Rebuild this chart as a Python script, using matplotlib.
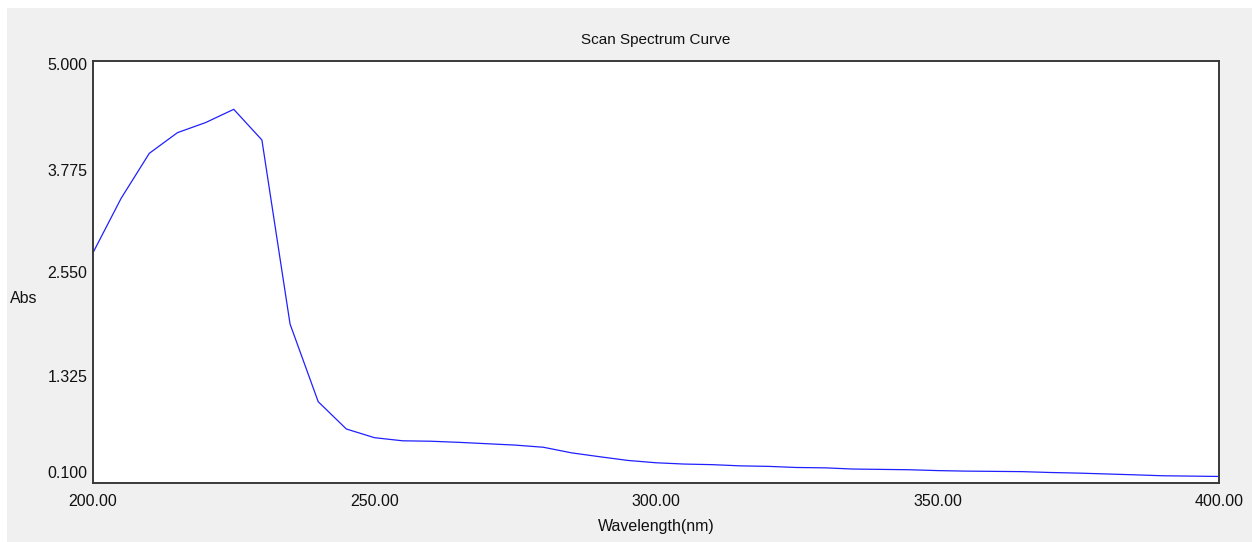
import matplotlib
matplotlib.use('Agg')
import matplotlib.pyplot as plt
import matplotlib.transforms as mtransforms
from matplotlib.patches import Rectangle

# wavelength (nm) and absorbance
wavelength = [200, 205, 210, 215, 220, 225, 230, 235, 240, 245,
              250, 255, 260, 265, 270, 275, 280, 285, 290, 295,
              300, 305, 310, 315, 320, 325, 330, 335, 340, 345,
              350, 355, 360, 365, 370, 375, 380, 385, 390, 395, 400]
absorbance = [2.774, 3.406, 3.928, 4.168, 4.285, 4.439, 4.083, 1.946, 1.044, 0.727,
              0.626, 0.590, 0.585, 0.572, 0.556, 0.540, 0.515, 0.450, 0.405, 0.362,
              0.335, 0.320, 0.313, 0.299, 0.293, 0.280, 0.276, 0.262, 0.258, 0.254,
              0.244, 0.238, 0.235, 0.232, 0.222, 0.215, 0.205, 0.195, 0.184, 0.180, 0.176]

y_ticks = [0.100, 1.325, 2.550, 3.775, 5.000]
x_ticks = [200, 250, 300, 350, 400]

plt.rcParams['font.family'] = ['Liberation Sans', 'DejaVu Sans']

W, H = 1252, 542
fig = plt.figure(figsize=(W / 100, H / 100), dpi=100, facecolor='white')
# grey window background (white strip left/top from the screenshot crop)
fig.patches.append(Rectangle((7 / W, 0), 1, (H - 8) / H, transform=fig.transFigure,
                             facecolor='#f0f0f0', edgecolor='none', zorder=-10))

ax = fig.add_axes([93 / W, 1 - 483 / H, (1219 - 93) / W, (483 - 61) / H])
ax.set_facecolor('white')
ax.plot(wavelength, absorbance, color='#2020ff', lw=0.9)

ax.set_xlim(200, 400)
ax.set_ylim(0.1, 5.0)
ax.set_xticks(x_ticks)
ax.set_xticklabels(['%.2f' % v for v in x_ticks])
ax.set_yticks(y_ticks)
ax.set_yticklabels(['%.3f' % v for v in y_ticks])
ax.tick_params(length=0, labelsize=11.5, colors='#111111')
ax.tick_params(axis='x', pad=8)
ax.tick_params(axis='y', pad=4)

# the instrument software nudges the y labels inward, copy that
shifts = [11, 2, 0, -3, -3]
for lab, dy in zip(ax.get_yticklabels(), shifts):
    off = mtransforms.ScaledTranslation(0, dy / 100, fig.dpi_scale_trans)
    lab.set_transform(lab.get_transform() + off)

for s in ax.spines.values():
    s.set_color('#3a3a3a')
    s.set_linewidth(1.4)

ax.set_title('Scan Spectrum Curve', fontsize=11, pad=12, color='#111111')
ax.set_xlabel('Wavelength(nm)', fontsize=11.5, labelpad=7, color='#111111')
ax.set_ylabel('Abs', fontsize=11.5, rotation=0, ha='center', va='center', color='#111111')
ax.yaxis.set_label_coords(-0.0613, 0.438)

fig.savefig('out.png', dpi=100, facecolor=fig.get_facecolor())
